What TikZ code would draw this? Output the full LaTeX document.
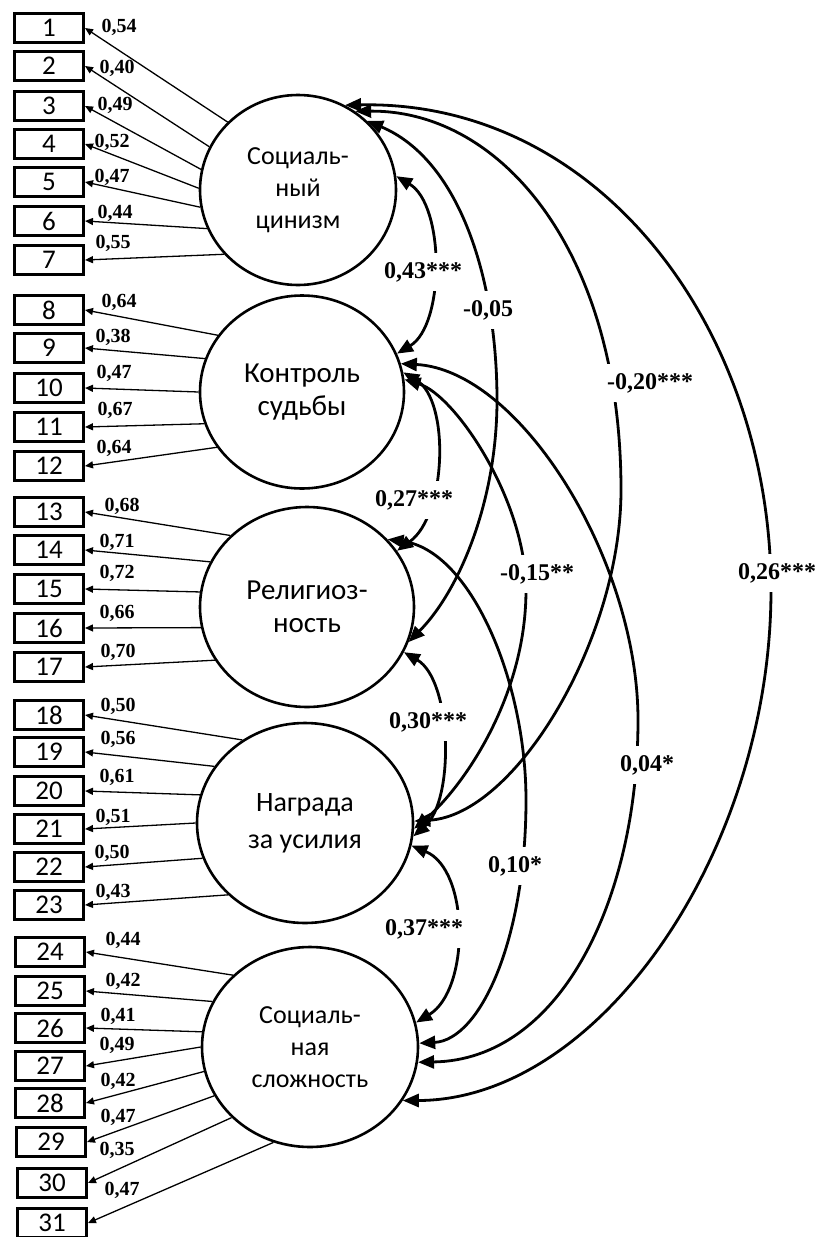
\documentclass[tikz,border=0pt]{standalone}
\usepackage{fontspec}
\setmainfont{Liberation Serif}
\newfontfamily\calib{Carlito}
\usetikzlibrary{arrows.meta,shapes.geometric}
\begin{document}
\begin{tikzpicture}[x=1pt,y=-1pt,
  itembox/.style={draw,line width=3pt,minimum width=69pt,minimum height=29pt,inner sep=0pt,font=\calib\fontsize{27}{27}\selectfont},
  factor/.style={draw,ellipse,line width=2.6pt,inner sep=0pt,align=center},
  load/.style={line width=1.3pt,-{Triangle[length=8pt,width=7pt]}},
  corr/.style={line width=2.8pt,{Triangle[length=16pt,width=13pt]}-{Triangle[length=16pt,width=13pt]}},
  ld/.style={font=\bfseries\fontsize{20}{20}\selectfont,inner sep=0pt},
  cl/.style={font=\bfseries\fontsize{24}{24}\selectfont,fill=white,inner xsep=2pt,inner ysep=9pt},
]
\useasboundingbox (0,0) rectangle (816,1237);
\fill[white] (0,0) rectangle (816,1237);

% latent factors
\node[factor,minimum width=196pt,minimum height=190pt,font=\calib\fontsize{26}{32}\selectfont] (c1) at (298,190) {Социаль-\\ный\\цинизм};
\node[factor,minimum width=204pt,minimum height=193pt,font=\calib\fontsize{29}{33}\selectfont] (c2) at (302,392) {Контроль\\судьбы};
\node[factor,minimum width=214pt,minimum height=200pt,font=\calib\fontsize{29}{33}\selectfont] (c3) at (307,607) {Религиоз-\\ность};
\node[factor,minimum width=216pt,minimum height=200pt,font=\calib\fontsize{28}{37}\selectfont] (c4) at (305,823) {Награда\\за усилия};
\node[factor,minimum width=216pt,minimum height=200pt,font=\calib\fontsize{26}{32}\selectfont] (c5) at (310,1047) {Социаль-\\ная\\сложность};

% item boxes
\foreach \n/\x/\y in {1/49/28,2/49/66,3/49/106,4/49/144,5/49/182,6/49/221,7/49/260,
  8/49/310,9/49/348,10/49/388,11/49/427,12/49/466,
  13/49/512,14/49/550,15/49/589,16/49/628,17/49/667,
  18/49/715,19/49/752,20/49/791,21/49/829,22/49/867,23/49/905,
  24/50/952,25/50/991,26/50/1028,27/50/1066,28/50/1103,29/51/1142,30/52/1183,31/52/1223}
  \node[itembox] (b\n) at (\x,\y) {\n};

% loadings
\foreach \n/\c/\a/\lx/\ly/\v in {
  1/c1/136/119/27/{0,54}, 2/c1/154/117/68/{0,40}, 3/c1/168/115/105/{0,49}, 4/c1/179/112/142/{0,52},
  5/c1/190/112/177/{0,47}, 6/c1/203/115/213/{0,44}, 7/c1/221/113/243/{0,55},
  8/c2/146/119/302/{0,64}, 9/c2/161/113/337/{0,38}, 10/c2/180/114/373/{0,47}, 11/c2/198/115/410/{0,67}, 12/c2/213/114/448/{0,64},
  13/c3/137/122/506/{0,68}, 14/c3/155/117/542/{0,71}, 15/c3/172/117/573/{0,72}, 16/c3/191/117/613/{0,66}, 17/c3/210/118/652/{0,70},
  18/c4/127/118/706/{0,50}, 19/c4/148/118/739/{0,56}, 20/c4/165/117/777/{0,61}, 21/c4/180/113/817/{0,51}, 22/c4/199/112/853/{0,50}, 23/c4/223/113/892/{0,43},
  24/c5/137/123/940/{0,44}, 25/c5/155/123/981/{0,42}, 26/c5/172/118/1016/{0,41}, 27/c5/180/117/1045/{0,49}, 28/c5/193/118/1081/{0,42},
  29/c5/207/118/1117/{0,47}, 30/c5/222/117/1150/{0,35}, 31/c5/249/122/1190/{0,47}}
{
  \draw[load] (\c.\a) -- (b\n.east);
  \node[ld] (l\n) at (\lx,\ly) {\v};
}

% correlations
\draw[corr] (c1.8) .. controls (445,205) and (445,325) .. (c2.22);
\draw[corr] (c1.45) .. controls (460,160) and (497,280) .. (497,400) .. controls (497,500) and (460,590) .. (c3.-19);
\draw[corr] (c1.54) .. controls (500,110) and (621,250) .. (621,490) .. controls (621,640) and (515,815) .. (c4.1);
\draw[corr] (c1.61) .. controls (600,100) and (771,330) .. (771,590) .. controls (771,850) and (600,1100) .. (c5.-30);
\draw[corr] (c2.11) .. controls (450,400) and (447,515) .. (c3.32);
\draw[corr] (c2.7) .. controls (455,395) and (526,500) .. (526,590) .. controls (526,700) and (460,790) .. (c4.-3);
\draw[corr] (c2.16) .. controls (520,370) and (638,560) .. (638,720) .. controls (638,900) and (560,1060) .. (c5.-8);
\draw[corr] (c3.-25) .. controls (452,680) and (455,800) .. (c4.-7);
\draw[corr] (c3.40) .. controls (470,550) and (526,680) .. (526,800) .. controls (526,940) and (480,1040) .. (c5.2);
\draw[corr] (c4.-12) .. controls (470,870) and (470,990) .. (c5.13);

% correlation labels
\node[cl] (r12) at (423,272) {0,43***};
\node[cl] (r13) at (488,310) {-0,05};
\node[cl] (r14) at (650,383) {-0,20***};
\node[cl] (r15) at (777,573) {0,26***};
\node[cl] (r23) at (414,500) {0,27***};
\node[cl] (r24) at (537,574) {-0,15**};
\node[cl] (r25) at (647,765) {0,04*};
\node[cl] (r34) at (428,722) {0,30***};
\node[cl] (r35) at (515,866) {0,10*};
\node[cl] (r45) at (424,929) {0,37***};
\end{tikzpicture}
\end{document}
